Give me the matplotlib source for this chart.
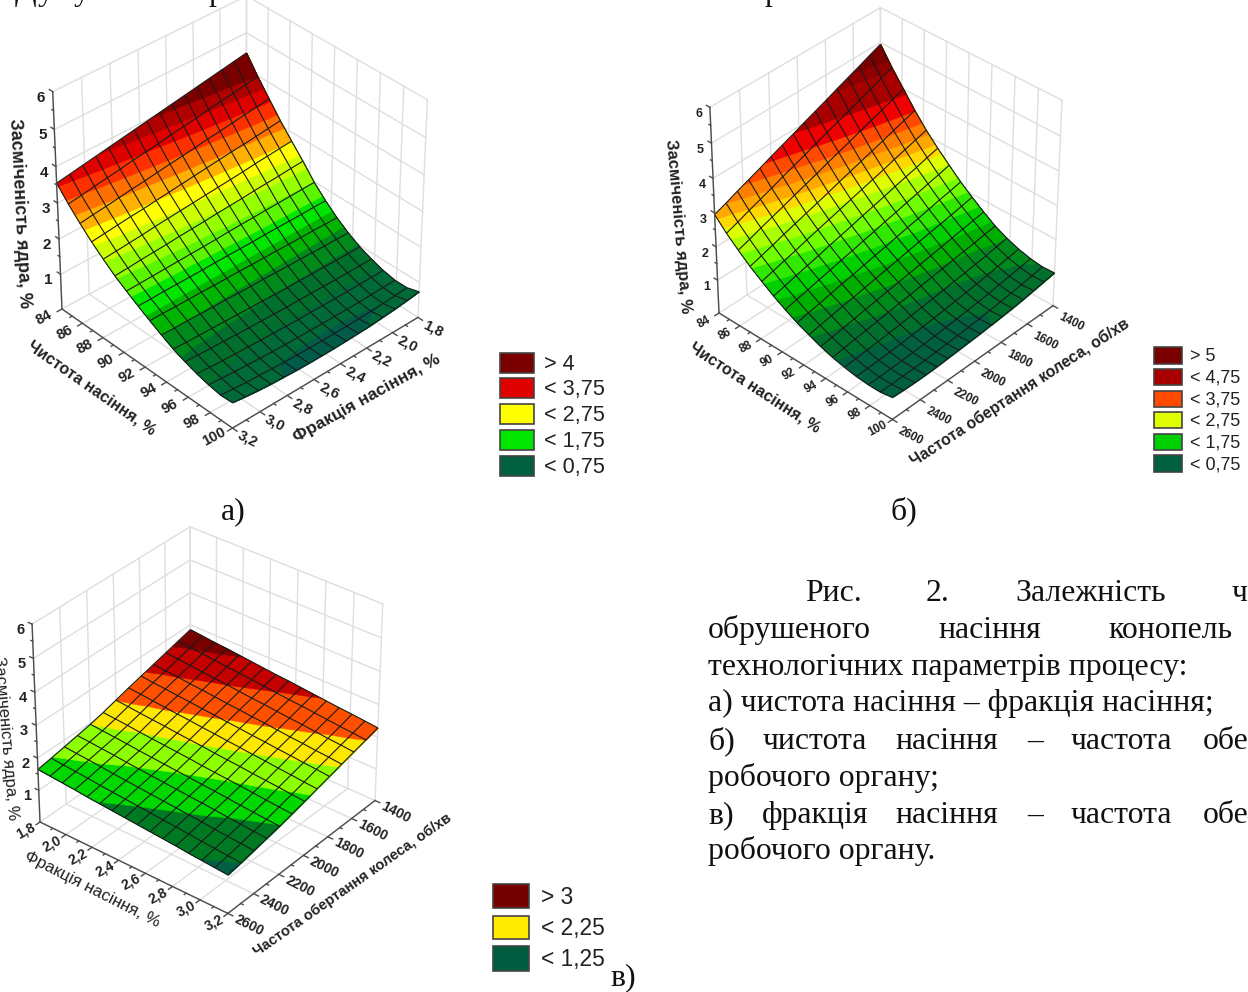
import numpy as np
import matplotlib
matplotlib.use("Agg")
import matplotlib.pyplot as plt
from matplotlib.patches import Rectangle
from mpl_toolkits.mplot3d import proj3d
from mpl_toolkits.mplot3d.art3d import Poly3DCollection
from contourpy import contour_generator

W, H = 1248, 992
SANS = "Liberation Sans"
SERIF = "Liberation Serif"

purity_ticks = [84, 86, 88, 90, 92, 94, 96, 98, 100]
fraction_ticks = [1.8, 2.0, 2.2, 2.4, 2.6, 2.8, 3.0, 3.2]
rpm_ticks = [1400, 1600, 1800, 2000, 2200, 2400, 2600]
z_ticks = [1, 2, 3, 4, 5, 6]

# rows: purity 84..100, columns: fraction 1.8..3.2
z_a = [
    [4.45,4.39,4.33,4.27,4.21,4.15,4.09,4.03,3.97,3.91,3.85,3.79,3.73,3.67,3.61,3.55],
    [3.98,3.93,3.87,3.82,3.77,3.71,3.66,3.61,3.55,3.50,3.45,3.39,3.34,3.29,3.23,3.18],
    [3.55,3.50,3.46,3.41,3.36,3.32,3.27,3.22,3.18,3.13,3.08,3.04,2.99,2.94,2.90,2.85],
    [3.13,3.09,3.05,3.01,2.98,2.94,2.90,2.86,2.82,2.78,2.74,2.70,2.67,2.63,2.59,2.55],
    [2.75,2.72,2.69,2.66,2.62,2.59,2.56,2.53,2.50,2.47,2.44,2.41,2.37,2.34,2.31,2.28],
    [2.38,2.36,2.33,2.31,2.29,2.26,2.24,2.22,2.19,2.17,2.15,2.12,2.10,2.08,2.05,2.03],
    [1.98,1.97,1.96,1.95,1.94,1.93,1.92,1.91,1.89,1.88,1.87,1.86,1.85,1.84,1.83,1.82],
    [1.66,1.66,1.65,1.65,1.65,1.65,1.64,1.64,1.64,1.64,1.63,1.63,1.63,1.63,1.62,1.62],
    [1.38,1.38,1.39,1.39,1.39,1.40,1.40,1.40,1.41,1.41,1.41,1.42,1.42,1.42,1.43,1.43],
    [1.15,1.16,1.16,1.17,1.18,1.18,1.19,1.20,1.20,1.21,1.22,1.22,1.23,1.24,1.24,1.25],
    [.96,.96,.96,.97,.97,.98,.98,.99,1.00,1.01,1.02,1.03,1.04,1.05,1.06,1.08],
    [.82,.82,.82,.82,.83,.83,.84,.84,.85,.86,.87,.88,.90,.91,.93,.95],
    [.71,.70,.70,.70,.70,.70,.71,.71,.72,.73,.74,.76,.77,.79,.81,.84],
    [.64,.63,.62,.61,.61,.61,.61,.62,.62,.63,.64,.66,.68,.70,.73,.76],
    [.64,.61,.59,.57,.56,.55,.55,.55,.55,.56,.57,.59,.61,.63,.66,.70],
    [.74,.69,.65,.62,.59,.57,.56,.55,.55,.55,.56,.58,.60,.63,.67,.72],
]

# rows: purity 84..100, columns: rpm 1400..2600
z_b = [
    [4.95,4.82,4.68,4.55,4.42,4.28,4.15,4.02,3.88,3.75,3.62,3.48,3.35,3.22,3.08,2.95],
    [4.45,4.33,4.20,4.08,3.96,3.83,3.71,3.59,3.46,3.34,3.22,3.09,2.97,2.85,2.72,2.60],
    [4.00,3.89,3.77,3.66,3.55,3.43,3.32,3.21,3.09,2.98,2.87,2.75,2.64,2.53,2.41,2.30],
    [3.55,3.45,3.35,3.24,3.14,3.04,2.94,2.84,2.73,2.63,2.53,2.43,2.33,2.22,2.12,2.02],
    [3.15,3.06,2.97,2.88,2.78,2.69,2.60,2.51,2.42,2.33,2.24,2.15,2.05,1.96,1.87,1.78],
    [2.80,2.72,2.63,2.55,2.47,2.38,2.30,2.22,2.13,2.05,1.97,1.88,1.80,1.72,1.63,1.55],
    [2.48,2.40,2.33,2.25,2.18,2.10,2.03,1.95,1.88,1.80,1.73,1.65,1.58,1.50,1.43,1.35],
    [2.17,2.10,2.04,1.97,1.90,1.84,1.77,1.70,1.64,1.57,1.50,1.44,1.37,1.30,1.24,1.17],
    [1.90,1.84,1.78,1.72,1.67,1.61,1.55,1.49,1.43,1.37,1.31,1.25,1.20,1.14,1.08,1.02],
    [1.65,1.60,1.55,1.50,1.44,1.39,1.34,1.29,1.24,1.19,1.14,1.09,1.03,.98,.93,.88],
    [1.42,1.38,1.33,1.29,1.25,1.20,1.16,1.12,1.07,1.03,.99,.94,.90,.86,.81,.77],
    [1.25,1.20,1.15,1.10,1.06,1.02,.98,.94,.90,.87,.83,.80,.77,.74,.71,.69],
    [1.12,1.07,1.02,.97,.93,.89,.85,.81,.78,.75,.72,.69,.67,.65,.64,.63],
    [1.03,.98,.93,.89,.84,.80,.77,.74,.71,.68,.66,.64,.62,.61,.60,.60],
    [.98,.93,.88,.84,.80,.76,.73,.70,.68,.66,.64,.62,.61,.60,.60,.60],
    [1.00,.95,.90,.85,.81,.78,.75,.72,.70,.68,.66,.64,.63,.63,.64,.66],
]

# rows: rpm 1400..2600, columns: fraction 1.8..3.2
z_c = [
    [2.85,2.81,2.77,2.74,2.70,2.66,2.62,2.58,2.55,2.51,2.47,2.43,2.39,2.36,2.32,2.28],
    [2.74,2.70,2.67,2.63,2.59,2.55,2.52,2.48,2.44,2.40,2.37,2.33,2.29,2.25,2.22,2.18],
    [2.63,2.59,2.56,2.52,2.48,2.45,2.41,2.37,2.34,2.30,2.26,2.23,2.19,2.15,2.12,2.08],
    [2.52,2.48,2.45,2.41,2.38,2.34,2.30,2.27,2.23,2.20,2.16,2.12,2.09,2.05,2.02,1.98],
    [2.41,2.37,2.34,2.30,2.27,2.23,2.20,2.16,2.13,2.09,2.06,2.02,1.99,1.95,1.92,1.88],
    [2.30,2.27,2.23,2.20,2.16,2.13,2.09,2.06,2.02,1.99,1.95,1.92,1.88,1.85,1.81,1.78],
    [2.18,2.15,2.11,2.08,2.05,2.01,1.98,1.95,1.91,1.88,1.85,1.81,1.78,1.75,1.71,1.68],
    [2.06,2.03,2.00,1.96,1.93,1.90,1.87,1.84,1.80,1.77,1.74,1.71,1.68,1.64,1.61,1.58],
    [1.96,1.93,1.90,1.87,1.83,1.80,1.77,1.74,1.71,1.68,1.65,1.62,1.58,1.55,1.52,1.49],
    [1.88,1.85,1.82,1.79,1.75,1.72,1.69,1.66,1.63,1.60,1.57,1.54,1.50,1.47,1.44,1.41],
    [1.80,1.77,1.74,1.71,1.67,1.64,1.61,1.58,1.55,1.52,1.49,1.46,1.42,1.39,1.36,1.33],
    [1.72,1.69,1.66,1.63,1.59,1.56,1.53,1.50,1.47,1.44,1.41,1.38,1.34,1.31,1.28,1.25],
    [1.65,1.62,1.59,1.56,1.52,1.49,1.46,1.43,1.40,1.37,1.34,1.31,1.27,1.24,1.21,1.18],
]

levels_a = [.58, .75, 1, 1.25, 1.5, 1.75, 2, 2.25, 2.5, 2.75, 3, 3.25, 3.5, 3.75, 4]
colors_a = ["#005c48", "#006a38", "#00702c", "#008a1c", "#00b400", "#00e600", "#5cf500", "#96ff00",
            "#ccff00", "#ffff00", "#ffb000", "#ff7000", "#ff3000", "#e00000", "#b00000", "#7a0000"]
levels_b = [.75, 1, 1.25, 1.5, 1.75, 2, 2.25, 2.5, 2.7, 2.88, 3.08, 3.3, 3.55, 3.9, 4.4, 4.6]
colors_b = ["#006040", "#00702c", "#008a1c", "#00ae00", "#00d000", "#30e800", "#70ff00", "#aaff00", "#dfff00",
            "#ffd800", "#ffa800", "#ff8000", "#ff4a00", "#f00000", "#a80000", "#900000", "#7a0000"]
levels_c = [1.25, 1.5, 1.73, 1.96, 2.18, 2.45, 2.69]
colors_c = ["#005f45", "#007a22", "#00d800", "#8cff00", "#ffe800", "#ff5000", "#c40000", "#7a0000"]

legend_a = ["> 4", "< 3,75", "< 2,75", "< 1,75", "< 0,75"]
legend_a_colors = ["#7a0000", "#e00000", "#ffff00", "#00e600", "#006040"]
legend_b = ["> 5", "< 4,75", "< 3,75", "< 2,75", "< 1,75", "< 0,75"]
legend_b_colors = ["#7a0000", "#a80000", "#ff4a00", "#dfff00", "#00d000", "#006040"]
legend_c = ["> 3", "< 2,25", "< 1,25"]
legend_c_colors = ["#750000", "#ffec00", "#005c3e"]

fig = plt.figure(figsize=(W / 100, H / 100), dpi=100)
over = fig.add_axes([0, 0, 1, 1], zorder=10)
over.set_xlim(0, W)
over.set_ylim(H, 0)
over.axis("off")


def to_px(ax, x, y, z):
    x2, y2, _ = proj3d.proj_transform(x, y, z, ax.get_proj())
    d = ax.transData.transform((x2, y2))
    return d[0], H - d[1]


def bilinear(Z, r, c):
    r0 = np.minimum(np.floor(r).astype(int), Z.shape[0] - 2)
    c0 = np.minimum(np.floor(c).astype(int), Z.shape[1] - 2)
    fr, fc = r - r0, c - c0
    return (Z[r0, c0] * (1 - fr) * (1 - fc) + Z[r0 + 1, c0] * fr * (1 - fc)
            + Z[r0, c0 + 1] * (1 - fr) * fc + Z[r0 + 1, c0 + 1] * fr * fc)


def chart(Z, xlim, ylim, xticks, yticks, xlab, ylab, levels, colors, elev, azim, height, left, right,
          xoff, yoff, zoff, tick_size, focal=1.3):
    Z = np.array(Z, dtype=float)
    ax = fig.add_axes([0, 0, 500 / W, 500 / H], projection="3d", computed_zorder=False)
    ax.set_axis_off()
    ax.set_proj_type("persp", focal_length=focal)
    ax.view_init(elev=elev, azim=azim)
    ax.set_box_aspect((1, 1, height))

    x0, x1 = xlim
    y0, y1 = ylim
    nr, nc = Z.shape
    xs = np.linspace(x0, x1, nr)
    ys = np.linspace(y1, y0, nc)  # table columns run from the back wall to the front

    # walls and floor
    grid = dict(color="#dedede", lw=1.0, zorder=1)
    for t in xticks:
        ax.plot([t, t], [y1, y1], [0, 6], **grid)
        ax.plot([t, t], [y0, y1], [0, 0], **grid)
    for t in yticks:
        ax.plot([x0, x0], [t, t], [0, 6], **grid)
        ax.plot([x0, x1], [t, t], [0, 0], **grid)
    for t in z_ticks:
        ax.plot([x0, x0], [y0, y1], [t, t], **grid)
        ax.plot([x0, x1], [y1, y1], [t, t], **grid)

    # colour bands, painted from the lowest up
    cg = contour_generator(z=Z)
    edges = [Z.min() - 1] + list(levels)
    for i, lo in enumerate(edges):
        points, offsets = cg.filled(lo, Z.max() + 1)
        verts = []
        for pts, off in zip(points, offsets):
            for a, b in zip(off[:-1], off[1:]):
                c, r = pts[a:b, 0], pts[a:b, 1]
                zz = bilinear(Z, r, c)
                xx = x0 + (x1 - x0) * r / (nr - 1)
                yy = ys[0] + (ys[-1] - ys[0]) * c / (nc - 1)
                verts.append(np.column_stack([xx, yy, zz]))
        if verts:
            poly = Poly3DCollection(verts, facecolors=colors[i], edgecolors=colors[i], linewidths=0.3)
            poly.set_zorder(2 + i * 0.01)
            ax.add_collection3d(poly)

    X, Y = np.meshgrid(xs, ys, indexing="ij")
    ax.plot_wireframe(X, Y, Z, color="#1a1a1a", linewidth=0.8, zorder=3)

    # axis lines and ticks
    line = dict(color="#4d4d4d", lw=1.0, zorder=4)
    ax.plot([x0, x1], [y0, y0], [0, 0], **line)
    ax.plot([x1, x1], [y0, y1], [0, 0], **line)
    ax.plot([x0, x0], [y0, y0], [0, 6], **line)
    dx, dy = x1 - x0, y1 - y0
    for t in xticks:
        ax.plot([t, t], [y0, y0 - 0.025 * dy], [0, 0], **line)
    for t in yticks:
        ax.plot([x1, x1 + 0.025 * dx], [t, t], [0, 0], **line)
    for t in z_ticks:
        ax.plot([x0, x0 - 0.02 * dx], [y0, y0], [t, t], **line)
    # short ticks half way between the labelled ones
    for a, b in zip(xticks[:-1], xticks[1:]):
        ax.plot([(a + b) / 2] * 2, [y0, y0 - 0.012 * dy], [0, 0], **line)
    for a, b in zip(yticks[:-1], yticks[1:]):
        ax.plot([x1, x1 + 0.012 * dx], [(a + b) / 2] * 2, [0, 0], **line)
    for a, b in zip(z_ticks[:-1], z_ticks[1:]):
        ax.plot([x0, x0 - 0.01 * dx], [y0, y0], [(a + b) / 2] * 2, **line)

    ax.set_xlim(x0, x1)
    ax.set_ylim(y0, y1)
    ax.set_zlim(0, 6)

    # place the axes so the floor corners land where they belong
    lx, ly = to_px(ax, x0, y0, 0)
    rx, ry = to_px(ax, x1, y1, 0)
    scale = (right[0] - left[0]) / (rx - lx)
    size = 500 * scale
    ox = left[0] - lx * scale
    oy = (H - left[1]) - (H - ly) * scale
    ax.set_position([ox / W, oy / H, size / W, size / H])

    for t, s in zip(xticks, xlab):
        px, py = to_px(ax, t, y0, 0)
        over.text(px + xoff[0], py + xoff[1], s, rotation=28, ha="center", va="center",
                  family=SANS, fontsize=tick_size, color="#222222", weight="bold")
    for t, s in zip(yticks, ylab):
        px, py = to_px(ax, x1, t, 0)
        over.text(px + yoff[0], py + yoff[1], s, rotation=-27, ha="center", va="center",
                  family=SANS, fontsize=tick_size, color="#222222", weight="bold")
    for t in z_ticks:
        px, py = to_px(ax, x0, y0, t)
        over.text(px + zoff[0], py + zoff[1], str(t), ha="center", va="center",
                  family=SANS, fontsize=tick_size + 0.5, color="#222222", weight="bold")
    return ax


def comma(vals):
    return [f"{v:.1f}".replace(".", ",") for v in vals]


chart(z_a, (84, 100), (3.2, 1.8), purity_ticks, fraction_ticks[::-1], [str(v) for v in purity_ticks],
      comma(fraction_ticks[::-1]), levels_a, colors_a, 36, -42.8, 1.04, (62, 309), (418, 316),
      (-18, 9), (15, 11), (-12, 6), 10.5)
chart(z_b, (84, 100), (2600, 1400), purity_ticks, rpm_ticks[::-1], [str(v) for v in purity_ticks],
      [str(v) for v in rpm_ticks[::-1]], levels_b, colors_b, 37, -47, 1.06, (719, 313), (1053, 305),
      (-15, 9), (18, 17), (-11, 7), 8.5)
chart(np.array(z_c).T, (1.8, 3.2), (2600, 1400), fraction_ticks, rpm_ticks[::-1], comma(fraction_ticks),
      [str(v) for v in rpm_ticks[::-1]], levels_c, colors_c, 33.5, -51.3, 0.97, (40, 822), (375, 802),
      (-14, 9), (21, 12), (-12, 6), 10)


def title(x, y, s, rot, size, bold=True):
    over.text(x, y, s, rotation=rot, rotation_mode="anchor", ha="center", va="center", family=SANS,
              fontsize=size, color="#222222", weight="bold" if bold else "normal")


title(20, 213, "Засміченість ядра, %", -87, 13)
title(92, 388, "Чистота насіння, %", -35, 11.5)
title(367, 398, "Фракція насіння, %", 29, 12.5)
title(678, 226, "Засміченість ядра, %", -85, 12)
title(755, 388, "Чистота насіння, %", -33, 11.5)
title(1020, 392, "Частота обертання колеса, об/хв", 33, 11.3)
title(6, 738, "Засміченість ядра, %", -85, 12, False)
title(92, 889, "Фракція насіння, %", -27, 12.2, False)
title(353, 885, "Частота обертання колеса, об/хв", 35, 10.5)


def legend(labels, cols, x0, x1, rows, text_x, size):
    for s, c, (a, b) in zip(labels, cols, rows):
        over.add_patch(Rectangle((x0, a), x1 - x0, b - a, facecolor=c, edgecolor="#444444", lw=1.2))
        over.text(text_x, (a + b) / 2 + 1, s, ha="left", va="center", family=SANS, fontsize=size, color="#222222")


legend(legend_a, legend_a_colors, 500, 534, [(353, 373), (378, 398), (404, 424), (430, 450), (456, 476)], 544, 15.6)
legend(legend_b, legend_b_colors, 1154, 1182,
       [(347, 364), (369, 385), (391, 407), (412, 428), (434, 450), (455, 472)], 1190, 13)
legend(legend_c, legend_c_colors, 493, 529, [(884, 908), (916, 939), (946, 971)], 541, 16.4)

# body text, word by word because the lines are justified
BODY = 22.9
words = [
    (805, 601, "Рис."), (926, 601, "2."), (1015, 601, "Залежність"), (1232, 601, "ч"),
    (708, 638, "обрушеного"), (938, 638, "насіння"), (1108, 638, "конопель"),
    (708, 675, "технологічних параметрів процесу:"),
    (708, 711, "а) чистота насіння – фракція насіння;"),
    (708, 749, "б)"), (763, 749, "чистота"), (895, 749, "насіння"), (1027, 749, "–"),
    (1071, 749, "частота"), (1203, 749, "обе"),
    (708, 786, "робочого органу;"),
    (708, 823, "в)"), (762, 823, "фракція"), (895, 823, "насіння"), (1027, 823, "–"),
    (1071, 823, "частота"), (1203, 823, "обе"),
    (708, 859, "робочого органу."),
    (221, 519, "а)"), (891, 519, "б)"), (610, 985, "в)"),
    (15, 0, "Д"), (38, 0, "у"), (74, 0, "у"), (208, 0, "р"), (764, 0, "р"),
]
for x, y, s in words:
    over.text(x, y, s, ha="left", va="baseline", family=SERIF, fontsize=BODY, color="#111111")

fig.savefig("out.png", dpi=100)
